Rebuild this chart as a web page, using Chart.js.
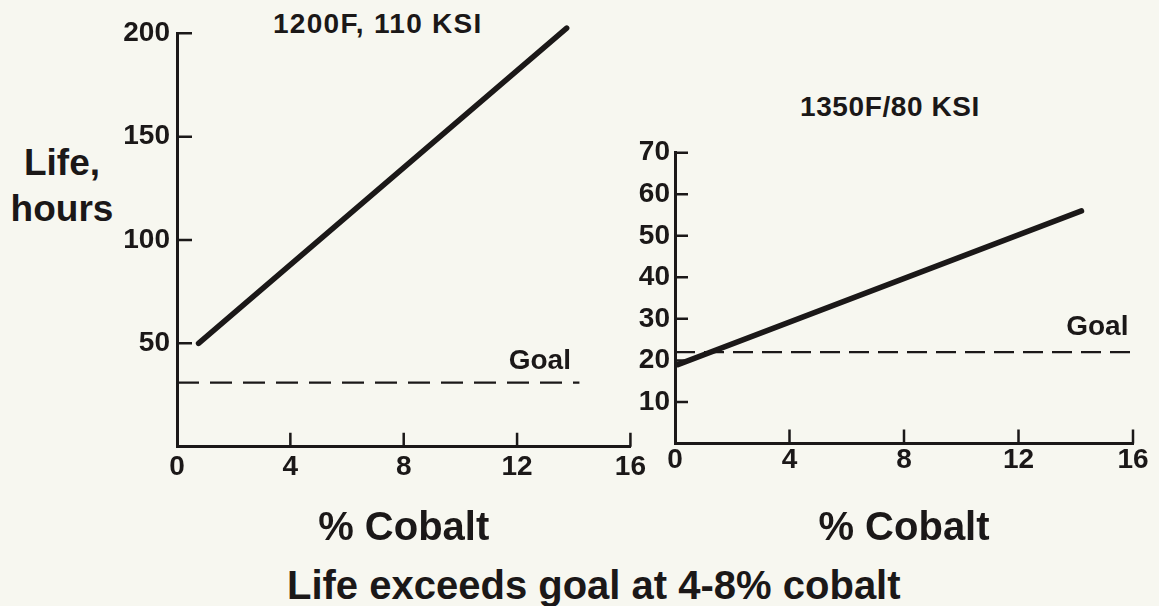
<!DOCTYPE html>
<html lang="en">
<head>
    <meta charset="UTF-8">
    <title>Life vs % Cobalt</title>
    <script src="https://cdn.jsdelivr.net/npm/chart.js"></script>
    <style>
        body {
            margin: 0;
            width: 1159px;
            height: 606px;
            overflow: hidden;
            background: #f7f7f0;
            font-family: "Liberation Sans", Arial, sans-serif;
            color: #1b1818;
            position: relative;
        }
        canvas { position: absolute; top: 0; }
        #leftChart { left: 0; }
        #rightChart { left: 600px; }
        .txt {
            position: absolute;
            font-weight: bold;
            white-space: nowrap;
        }
        #titleLeft { left: 273px; top: 10px; font-size: 28px; line-height: 28px; letter-spacing: 1.3px; }
        #titleRight { left: 800px; top: 93px; font-size: 28px; line-height: 28px; letter-spacing: 0.6px; }
        #yLabel { left: 2px; width: 120px; top: 140px; font-size: 37px; line-height: 46px; text-align: center; }
        #caption { left: 287px; top: 561px; font-size: 40px; line-height: 48px; }
    </style>
</head>
<body>
    <div class="txt" id="titleLeft">1200F, 110 KSI</div>
    <div class="txt" id="titleRight">1350F/80 KSI</div>
    <div class="txt" id="yLabel">Life,<br>hours</div>
    <div class="txt" id="caption">Life exceeds goal at 4-8% cobalt</div>

    <canvas id="leftChart" width="650" height="606"></canvas>
    <canvas id="rightChart" width="559" height="606"></canvas>

    <script>
        // 1200F, 110 KSI
        const cobaltLeft = [0.76, 13.75];
        const lifeLeft = [50, 202.5];
        const goalLeftX = [0, 14.2];
        const goalLeft = [31, 31];

        // 1350F/80 KSI
        const cobaltRight = [0.1, 14.2];
        const lifeRight = [19, 56];
        const goalRightX = [0, 16];
        const goalRight = [22, 22];

        const xTicks = [0, 4, 8, 12, 16];
        const leftYTicks = [50, 100, 150, 200];
        const rightYTicks = [10, 20, 30, 40, 50, 60, 70];

        const ink = '#1b1818';
        Chart.defaults.font.family = '"Liberation Sans", Arial, sans-serif';
        Chart.defaults.color = ink;

        const pts = (xs, ys) => xs.map((x, i) => ({ x: x, y: ys[i] }));

        // short tick marks pointing into the plot, plus the "Goal" tag
        const innerTicks = {
            id: 'innerTicks',
            afterDatasetsDraw(chart, args, opts) {
                const { ctx, chartArea, scales: { x, y } } = chart;
                ctx.save();
                ctx.strokeStyle = ink;
                ctx.lineWidth = 2.5;
                ctx.beginPath();
                x.ticks.forEach(t => {
                    if (t.value === 0) return;
                    const px = x.getPixelForValue(t.value);
                    ctx.moveTo(px, chartArea.bottom);
                    ctx.lineTo(px, chartArea.bottom - opts.xLen);
                });
                y.ticks.forEach(t => {
                    const py = y.getPixelForValue(t.value);
                    ctx.moveTo(chartArea.left, py);
                    ctx.lineTo(chartArea.left + opts.yLen, py);
                });
                ctx.stroke();

                ctx.fillStyle = ink;
                ctx.font = 'bold 28px "Liberation Sans", Arial, sans-serif';
                ctx.textAlign = 'right';
                ctx.textBaseline = 'alphabetic';
                ctx.fillText('Goal', x.getPixelForValue(opts.goalAt), y.getPixelForValue(opts.goal) - opts.goalGap);
                ctx.restore();
            }
        };

        function makeChart(id, cfg) {
            return new Chart(document.getElementById(id), {
                type: 'line',
                data: {
                    datasets: [{
                        data: pts(cfg.cobalt, cfg.life),
                        borderColor: ink,
                        borderWidth: 5.5,
                        borderCapStyle: 'round',
                        pointRadius: 0,
                        clip: false
                    }, {
                        data: pts(cfg.goalX, cfg.goal),
                        borderColor: ink,
                        borderWidth: 2.2,
                        borderDash: cfg.dash,
                        pointRadius: 0,
                        clip: false
                    }]
                },
                options: {
                    responsive: false,
                    animation: false,
                    devicePixelRatio: 1,
                    layout: { padding: cfg.padding },
                    plugins: {
                        legend: { display: false },
                        tooltip: { enabled: false },
                        innerTicks: cfg.tickOpts
                    },
                    scales: {
                        x: {
                            type: 'linear',
                            min: 0,
                            max: 16,
                            afterBuildTicks: s => { s.ticks = xTicks.map(v => ({ value: v })); },
                            afterFit: s => { s.height = cfg.xHeight; },
                            grid: { display: false, drawTicks: false },
                            border: { display: true, width: 3, color: ink },
                            ticks: { font: { size: 28, weight: 'bold' }, padding: cfg.xPad, maxRotation: 0 },
                            title: {
                                display: true,
                                text: '% Cobalt',
                                font: { size: 40, weight: 'bold' },
                                padding: { top: 0, bottom: 53 }
                            }
                        },
                        y: {
                            type: 'linear',
                            min: 0,
                            max: cfg.yMax,
                            afterBuildTicks: s => { s.ticks = cfg.yTicks.map(v => ({ value: v })); },
                            afterFit: s => { s.width = cfg.yWidth; },
                            grid: { display: false, drawTicks: false },
                            border: { display: true, width: 3, color: ink },
                            ticks: { font: { size: 28, weight: 'bold' }, padding: cfg.yPad }
                        }
                    }
                },
                plugins: [innerTicks]
            });
        }

        makeChart('leftChart', {
            cobalt: cobaltLeft, life: lifeLeft,
            goalX: goalLeftX, goal: goalLeft,
            dash: [22, 11],
            yMax: 200, yTicks: leftYTicks,
            padding: { top: 33.3, right: 17, bottom: 0, left: 0 },
            xHeight: 159.3, yWidth: 177,
            xPad: 4, yPad: 7,
            tickOpts: { xLen: 14, yLen: 15, goalAt: 13.9, goal: goalLeft[0], goalGap: 13.5 }
        });

        makeChart('rightChart', {
            cobalt: cobaltRight, life: lifeRight,
            goalX: goalRightX, goal: goalRight,
            dash: [20, 9],
            yMax: 70, yTicks: rightYTicks,
            padding: { top: 152.7, right: 26, bottom: 0, left: 0 },
            xHeight: 162.5, yWidth: 75,
            xPad: 0, yPad: 5,
            tickOpts: { xLen: 14, yLen: 13, goalAt: 15.84, goal: goalRight[0], goalGap: 17 }
        });
    </script>
</body>
</html>
